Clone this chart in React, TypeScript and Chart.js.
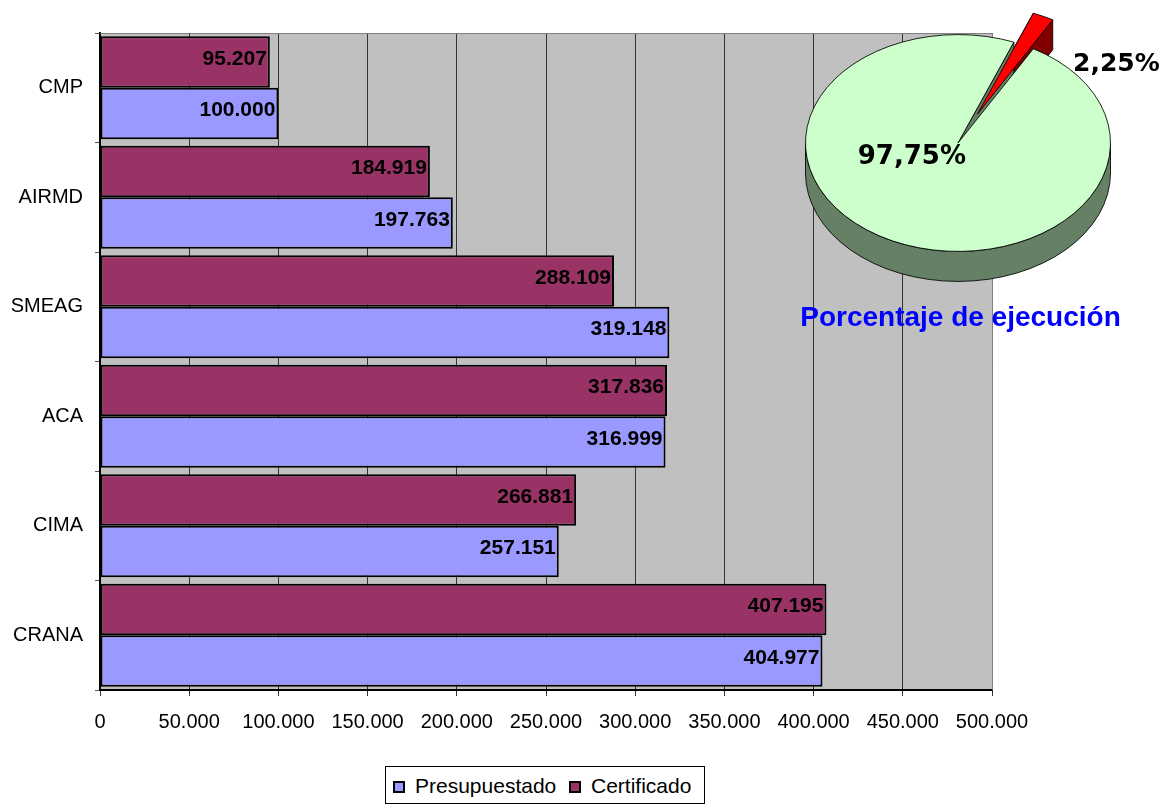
import React, { useEffect, useRef } from 'react';
import { Chart, registerables } from 'chart.js';

Chart.register(...registerables);

// ---------- data ----------
const categories = ['CMP', 'AIRMD', 'SMEAG', 'ACA', 'CIMA', 'CRANA'];
const presupuestado = [100000, 197763, 319148, 316999, 257151, 404977];
const certificado = [95207, 184919, 288109, 317836, 266881, 407195];
const seriesNames = ['Presupuestado', 'Certificado'];
const xMin = 0;
const xMax = 500000;
const xStep = 50000;

const pieLabels = ['Pendiente', 'Ejecutado'];
const pieValues = [2.25, 97.75];
const pieTitle = 'Porcentaje de ejecución';

// ---------- styles ----------
const FONT = "'Liberation Sans', Arial, Helvetica, sans-serif";
const PIE_FONT = "'DejaVu Sans', Verdana, sans-serif";
const colPres = '#9999FF';
const colCert = '#993366';
const pieColors = ['#FF0000', '#CCFFCC'];
const pieSideColors = ['#800000', '#668066'];
const pieExplode = [45, 0];
const TILT = 0.711;
const THICK = 30;

const fmt = (v: number) => String(Math.round(v)).replace(/\B(?=(\d{3})+(?!\d))/g, '.');
const pct = (v: number) => v.toFixed(2).replace('.', ',') + '%';

const plotBg = {
  id: 'plotBg',
  beforeDraw(chart: any) {
    const { ctx, chartArea: a } = chart;
    ctx.save();
    ctx.fillStyle = '#C0C0C0';
    ctx.fillRect(a.left, a.top, a.right - a.left, a.bottom - a.top);
    ctx.restore();
  },
  afterDraw(chart: any) {
    const { ctx, chartArea: a } = chart;
    ctx.save();
    ctx.strokeStyle = '#808080';
    ctx.lineWidth = 1;
    ctx.beginPath();
    ctx.moveTo(a.left, a.top + 0.5);
    ctx.lineTo(a.right + 0.5, a.top + 0.5);
    ctx.lineTo(a.right + 0.5, a.bottom);
    ctx.stroke();
    ctx.restore();
  },
};

const barLabels = {
  id: 'barLabels',
  afterDatasetsDraw(chart: any) {
    const ctx = chart.ctx;
    ctx.save();
    ctx.font = `bold 21px ${FONT}`;
    ctx.fillStyle = '#000';
    ctx.textAlign = 'right';
    ctx.textBaseline = 'middle';
    chart.data.datasets.forEach((ds: any, di: number) => {
      const meta = chart.getDatasetMeta(di);
      meta.data.forEach((bar: any, i: number) => {
        ctx.fillText(fmt(ds.data[i]), bar.x - 3, bar.y - 3);
      });
    });
    ctx.restore();
  },
};

function drawSides(ctx: CanvasRenderingContext2D, chart: any, t: number) {
  const meta = chart.getDatasetMeta(0);
  const arcs = meta.data;
  ctx.lineWidth = 1;
  ctx.strokeStyle = '#000';
  ctx.lineJoin = 'round';
  // radial faces
  arcs.forEach((a: any, i: number) => {
    const { x, y, startAngle, endAngle, outerRadius: R } = a;
    ctx.fillStyle = pieSideColors[i];
    [startAngle, endAngle].forEach((ang: number) => {
      const ex = x + R * Math.cos(ang);
      const ey = y + R * Math.sin(ang);
      ctx.beginPath();
      ctx.moveTo(x, y);
      ctx.lineTo(ex, ey);
      ctx.lineTo(ex, ey + t);
      ctx.lineTo(x, y + t);
      ctx.closePath();
      ctx.fill();
      ctx.stroke();
    });
  });
  // outer rims (front half only)
  arcs.forEach((a: any, i: number) => {
    const { x, y, startAngle, endAngle, outerRadius: R } = a;
    ctx.fillStyle = pieSideColors[i];
    for (let k = -2; k <= 2; k++) {
      const lo = Math.max(startAngle, 2 * Math.PI * k);
      const hi = Math.min(endAngle, 2 * Math.PI * k + Math.PI);
      if (hi <= lo) continue;
      ctx.beginPath();
      ctx.moveTo(x + R * Math.cos(lo), y + R * Math.sin(lo));
      ctx.arc(x, y, R, lo, hi, false);
      ctx.lineTo(x + R * Math.cos(hi), y + t + R * Math.sin(hi));
      ctx.arc(x, y + t, R, hi, lo, true);
      ctx.closePath();
      ctx.fill();
      ctx.stroke();
    }
  });
}

const pie3d = {
  id: 'pie3d',
  afterUpdate(chart: any) {
    const meta = chart.getDatasetMeta(0);
    meta.data.forEach((arc: any, i: number) => {
      const d = pieExplode[i] || 0;
      if (!d) return;
      const mid = (arc.startAngle + arc.endAngle) / 2;
      arc.x += Math.cos(mid) * d;
      arc.y += Math.sin(mid) * d;
    });
  },
  beforeDatasetsDraw(chart: any) {
    const ctx = chart.ctx;
    const a = chart.chartArea;
    const cy = (a.top + a.bottom) / 2;
    ctx.save();
    ctx.translate(0, cy);
    ctx.scale(1, TILT);
    ctx.translate(0, -cy);
    drawSides(ctx, chart, THICK / TILT);
  },
  afterDatasetsDraw(chart: any) {
    chart.ctx.restore();
  },
  afterDraw(chart: any) {
    const ctx = chart.ctx;
    const a = chart.chartArea;
    const cx = (a.left + a.right) / 2;
    const cy = (a.top + a.bottom) / 2;
    ctx.save();
    ctx.fillStyle = '#000';
    ctx.textBaseline = 'alphabetic';
    ctx.font = `bold 26px ${PIE_FONT}`;
    ctx.textAlign = 'right';
    ctx.fillText(pct(pieValues[1]), cx + 8, cy + 21);
    ctx.font = `bold 25px ${PIE_FONT}`;
    ctx.textAlign = 'left';
    ctx.fillText(pct(pieValues[0]), cx + 115, cy - 72);
    ctx.fillStyle = '#0000FF';
    ctx.font = `bold 28px ${FONT}`;
    ctx.textAlign = 'center';
    ctx.fillText(pieTitle, cx + 2.5, cy + 183);
    ctx.restore();
  },
};

export default function App() {
  const barRef = useRef<HTMLCanvasElement>(null);
  const pieRef = useRef<HTMLCanvasElement>(null);

  useEffect(() => {
    Chart.defaults.font.family = FONT;
    Chart.defaults.color = '#000';

    const bar = new Chart(barRef.current as HTMLCanvasElement, {
      type: 'bar',
      data: {
        labels: categories,
        datasets: [
          {
            label: seriesNames[1],
            data: certificado,
            backgroundColor: colCert,
            borderColor: '#000',
            borderWidth: 2,
            borderSkipped: false,
            categoryPercentage: 0.94,
            barPercentage: 1.0,
          },
          {
            label: seriesNames[0],
            data: presupuestado,
            backgroundColor: colPres,
            borderColor: '#000',
            borderWidth: 2,
            borderSkipped: false,
            categoryPercentage: 0.94,
            barPercentage: 1.0,
          },
        ],
      },
      options: {
        indexAxis: 'y',
        responsive: false,
        animation: false,
        events: [],
        devicePixelRatio: 1,
        layout: { padding: { top: 33, right: 180, bottom: 69, left: 0 } },
        scales: {
          x: {
            type: 'linear',
            min: xMin,
            max: xMax,
            ticks: {
              stepSize: xStep,
              callback: (v: any) => fmt(Number(v)),
              font: { size: 20, family: FONT },
              color: '#000',
              padding: 14,
              maxRotation: 0,
              autoSkip: false,
            },
            grid: { color: '#333', lineWidth: 1, tickLength: 6, tickColor: '#333', drawTicks: true },
            border: { color: '#000', width: 2 },
            afterFit: (s: any) => { s.height = 45; },
          },
          y: {
            ticks: { font: { size: 20, family: FONT }, color: '#000', padding: 12 },
            grid: { offset: true, drawOnChartArea: false, tickLength: 5, tickColor: '#555' },
            border: { color: '#000', width: 2 },
            afterFit: (s: any) => { s.width = 100; },
          },
        },
        plugins: {
          legend: { display: false },
          tooltip: { enabled: false },
          title: { display: false },
        },
      } as any,
      plugins: [plotBg, barLabels],
    });

    const pie = new Chart(pieRef.current as HTMLCanvasElement, {
      type: 'pie',
      data: {
        labels: pieLabels,
        datasets: [
          {
            data: pieValues,
            backgroundColor: pieColors,
            borderColor: '#000',
            borderWidth: 1,
            clip: false,
          } as any,
        ],
      },
      options: {
        responsive: false,
        animation: false,
        events: [],
        devicePixelRatio: 1,
        rotation: 21.5,
        layout: { padding: { left: 17, top: 17, right: 61, bottom: 77 } },
        plugins: {
          legend: { display: false },
          tooltip: { enabled: false },
          title: { display: false },
        },
      } as any,
      plugins: [pie3d],
    });

    return () => {
      bar.destroy();
      pie.destroy();
    };
  }, []);

  const swatch = (left: number, color: string): React.CSSProperties => ({
    position: 'absolute',
    left,
    top: 14,
    width: 12,
    height: 12,
    boxSizing: 'border-box',
    border: '2px solid #000',
    background: color,
  });
  const txt = (left: number): React.CSSProperties => ({
    position: 'absolute',
    left,
    top: 8,
    lineHeight: '21px',
    fontSize: 21,
    whiteSpace: 'nowrap',
    color: '#000',
  });

  return (
    <div
      style={{
        position: 'absolute',
        left: 0,
        top: 0,
        width: 1172,
        height: 804,
        overflow: 'hidden',
        background: '#fff',
        fontFamily: FONT,
      }}
    >
      <canvas ref={barRef} width={1172} height={804} style={{ position: 'absolute', left: 0, top: 0, width: 1172, height: 804 }} />
      <canvas
        ref={pieRef}
        width={384}
        height={400}
        style={{ position: 'absolute', left: 788, top: -27, width: 384, height: 400, pointerEvents: 'none' }}
      />
      <div
        style={{
          position: 'absolute',
          left: 385,
          top: 766,
          width: 320,
          height: 38,
          boxSizing: 'border-box',
          border: '1px solid #000',
          background: '#fff',
        }}
      >
        <div style={swatch(7, colPres)} />
        <div style={txt(29)}>{seriesNames[0]}</div>
        <div style={swatch(183, colCert)} />
        <div style={txt(205)}>{seriesNames[1]}</div>
      </div>
    </div>
  );
}
